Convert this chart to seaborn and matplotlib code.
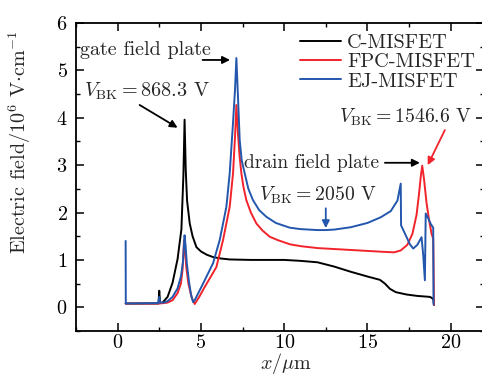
import numpy as np
import pandas as pd
import matplotlib
matplotlib.use("Agg")
import matplotlib.pyplot as plt
import seaborn as sns

# Electric field along the drift region (x in um, E in 1e6 V/cm)
c_x = [0.48, 2.45, 2.50, 2.55, 2.70, 3.00, 3.30, 3.60, 3.83, 3.95, 4.02,
       4.09, 4.17, 4.33, 4.50, 4.73, 5.00, 5.35, 5.73, 6.20, 6.73, 8.00, 10.0, 11.0,
       12.0, 13.0, 14.0, 15.0, 15.75, 16.05, 16.35, 16.7, 17.35, 18.0, 18.75, 18.95,
       19.0]
c_y = [0.08, 0.08, 0.35, 0.09, 0.10, 0.22, 0.52, 1.02, 1.65, 2.80, 3.96,
       2.90, 2.25, 1.77, 1.50, 1.27, 1.18, 1.11, 1.06, 1.03, 1.01, 1.00, 1.00, 0.98,
       0.95, 0.86, 0.75, 0.65, 0.58, 0.50, 0.39, 0.32, 0.27, 0.24, 0.22, 0.18,
       0.05]

fpc_x = [0.48, 2.50, 2.80, 3.00, 3.30, 3.60, 3.80, 3.90, 3.99, 4.05, 4.12, 4.25, 4.45,
         4.63, 4.90, 5.23, 5.60, 5.93, 6.33, 6.73, 6.93, 7.05, 7.13, 7.22, 7.32, 7.43,
         7.55, 7.73, 8.00, 8.33, 8.70, 9.13, 9.60, 10.34, 11.0, 12.0, 13.0, 14.0, 15.0,
         16.0, 16.6, 17.0, 17.4, 17.7, 17.95, 18.1, 18.2, 18.29, 18.4, 18.55, 18.7,
         18.85, 18.95, 19.0]
fpc_y = [0.08, 0.08, 0.09, 0.10, 0.15, 0.30, 0.50, 0.80, 1.42, 1.20, 0.85, 0.50, 0.20,
         0.07, 0.22, 0.43, 0.65, 0.85, 1.42, 2.12, 2.83, 3.60, 4.27, 3.70, 3.20, 2.83,
         2.55, 2.26, 2.00, 1.77, 1.62, 1.49, 1.42, 1.33, 1.29, 1.25, 1.23, 1.21, 1.19,
         1.17, 1.16, 1.20, 1.32, 1.55, 1.95, 2.40, 2.75, 2.99, 2.70, 2.20, 1.85,
         1.55, 1.45, 0.05]

ej_x = [0.48, 0.49, 2.45, 2.50, 2.55, 2.80, 3.00, 3.30, 3.60, 3.80, 3.92, 4.02, 4.08,
        4.15, 4.28, 4.40, 4.53, 4.63, 5.13, 5.73, 6.13, 6.53, 6.73, 6.93, 7.05, 7.13,
        7.22, 7.33, 7.45, 7.63, 7.85, 8.13, 8.50, 8.93, 9.50, 10.34, 11.0, 12.0, 12.5,
        13.0, 14.0, 15.0, 15.8, 16.4, 16.8, 17.0, 17.02, 17.3, 17.55, 17.75, 18.0,
        18.25, 18.35, 18.45, 18.5, 18.65, 18.8, 18.95, 18.97]
ej_y = [1.40, 0.08, 0.09, 0.22, 0.10, 0.10, 0.13, 0.22, 0.40, 0.65, 0.95, 1.52, 1.30,
        0.95, 0.55, 0.28, 0.11, 0.15, 0.50, 0.93, 1.42, 2.12, 2.83, 3.90, 4.60, 5.26,
        4.50, 3.53, 3.10, 2.83, 2.50, 2.26, 2.05, 1.91, 1.78, 1.68, 1.65, 1.63, 1.63,
        1.64, 1.69, 1.78, 1.90, 2.03, 2.25, 2.61, 1.73, 1.52, 1.33, 1.24, 1.32,
        1.48, 1.10, 0.57, 1.98, 1.88, 1.76, 1.68, 0.06]

devices = ["C-MISFET", "FPC-MISFET", "EJ-MISFET"]
colors = ["#000000", "#f2232b", "#2257ad"]

df = pd.concat([
    pd.DataFrame({"x": c_x, "E": c_y, "device": devices[0]}),
    pd.DataFrame({"x": fpc_x, "E": fpc_y, "device": devices[1]}),
    pd.DataFrame({"x": ej_x, "E": ej_y, "device": devices[2]}),
], ignore_index=True)

sns.set_theme(style="ticks")
plt.rcParams.update({
    "font.family": ["cmr10", "DejaVu Serif"],
    "mathtext.fontset": "cm",
    "axes.formatter.use_mathtext": True,
    "axes.linewidth": 1.3,
    "xtick.direction": "in", "ytick.direction": "in",
    "xtick.top": True, "ytick.right": True,
    "xtick.major.size": 5.5, "ytick.major.size": 5.5,
    "xtick.minor.size": 3, "ytick.minor.size": 3,
    "xtick.major.width": 1.1, "ytick.major.width": 1.1,
    "xtick.minor.width": 1.0, "ytick.minor.width": 1.0,
    "xtick.color": "black", "ytick.color": "black",
    "axes.edgecolor": "black",
})

fig = plt.figure(figsize=(4.82, 3.78), dpi=100)
ax = fig.add_axes([76 / 482, 47 / 378, 408 / 482, 308 / 378])

sns.lineplot(data=df, x="x", y="E", hue="device", hue_order=devices,
             palette=colors, sort=False, estimator=None, lw=1.4, ax=ax)

ax.set_xlim(-2.5, 22.0)
ax.set_ylim(-0.5, 6)
ax.set_xticks([0, 5, 10, 15, 20])
ax.set_yticks([0, 1, 2, 3, 4, 5, 6])
ax.xaxis.set_minor_locator(matplotlib.ticker.MultipleLocator(2.5))
ax.yaxis.set_minor_locator(matplotlib.ticker.MultipleLocator(0.5))
ax.tick_params(labelsize=14.5)
ax.tick_params(axis="x", pad=2.5)
ax.tick_params(axis="y", pad=6)
ax.set_xlabel(r"$x/\mu$m", fontsize=14.5)
ax.xaxis.set_label_coords(0.515, -0.066)
ax.set_ylabel(r"Electric field/$10^6$ V$\cdot$cm$^{-1}$", fontsize=14.5)
ax.yaxis.set_label_coords(-0.105, 0.614)

ax.legend(frameon=False, fontsize=14.7, loc="center left",
          bbox_to_anchor=(0.549, 0.873), handlelength=2.0, handletextpad=0.3,
          labelspacing=0.05, borderpad=0, borderaxespad=0)

arrow_kw = dict(arrowstyle="-|>", lw=1.3, mutation_scale=11, shrinkA=0, shrinkB=0)

ax.text(-2.25, 5.43, "gate field plate", fontsize=14.5, va="center", ha="left")
ax.annotate("", xy=(6.75, 5.22), xytext=(5.1, 5.22),
            arrowprops=dict(color="black", **arrow_kw))

ax.text(-2.0, 4.55, r"$V_{\rm BK}=868.3$ V", fontsize=14.5, va="center", ha="left")
ax.annotate("", xy=(3.6, 3.79), xytext=(1.32, 4.27),
            arrowprops=dict(color="black", **arrow_kw))

ax.text(13.3, 4.0, r"$V_{\rm BK}=1546.6$ V", fontsize=14.2, va="center", ha="left")
ax.annotate("", xy=(18.62, 3.0), xytext=(19.65, 3.74),
            arrowprops=dict(color=colors[1], **arrow_kw))

ax.text(7.6, 3.05, "drain field plate", fontsize=14, va="center", ha="left")
ax.annotate("", xy=(18.15, 3.05), xytext=(16.05, 3.05),
            arrowprops=dict(color="black", **arrow_kw))

ax.text(8.5, 2.37, r"$V_{\rm BK}=2050$ V", fontsize=14.2, va="center", ha="left")
ax.annotate("", xy=(12.5, 1.67), xytext=(12.5, 2.09),
            arrowprops=dict(color=colors[2], **arrow_kw))

fig.savefig("out.png", dpi=100)
